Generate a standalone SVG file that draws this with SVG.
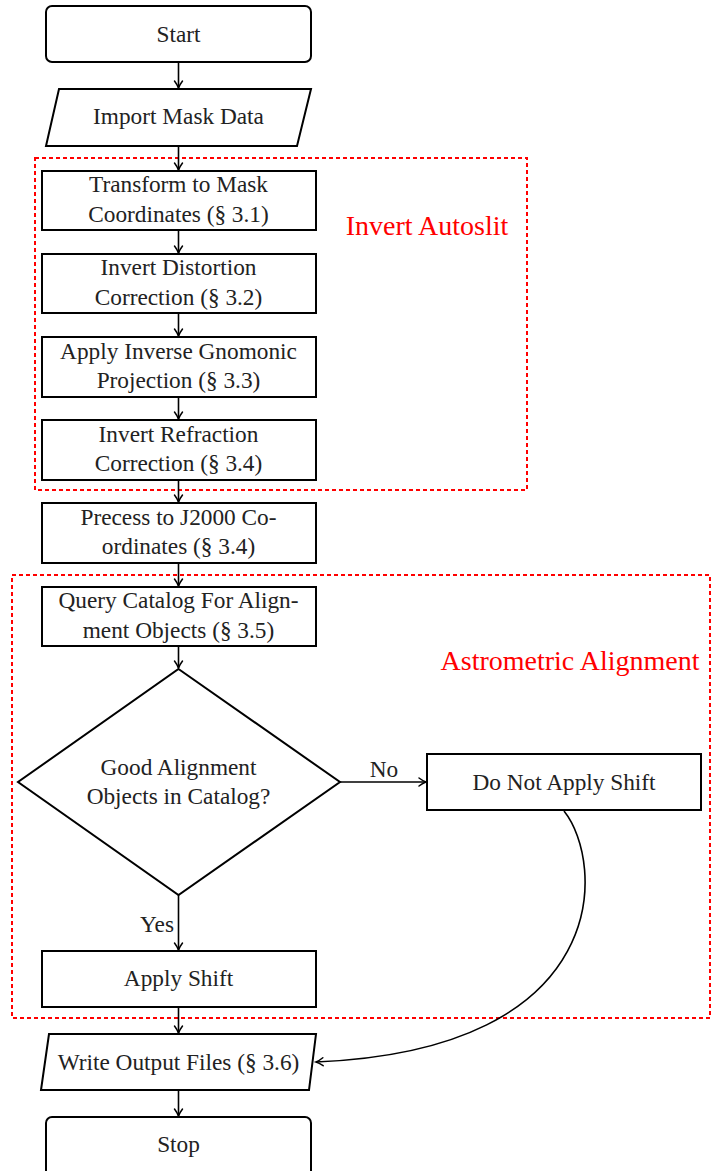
<svg xmlns="http://www.w3.org/2000/svg" width="716" height="1171" viewBox="0 0 716 1171">
<style>
.n{fill:#fff;stroke:#000;stroke-width:2}
.t{font-family:"Liberation Serif","DejaVu Serif",serif;font-size:23.3px;fill:#222;text-anchor:middle}
.c{fill:none;stroke:#000;stroke-width:1.6}
.g{fill:none;stroke:#f00;stroke-width:2;stroke-dasharray:4 3}
.r{font-family:"Liberation Serif","DejaVu Serif",serif;font-size:28px;fill:#f00;text-anchor:middle}
</style>
<defs>
<marker id="a" markerUnits="userSpaceOnUse" markerWidth="14" markerHeight="14" refX="0" refY="0" viewBox="-8 -7 10 14" orient="auto" overflow="visible">
<path d="M-7,-4 Q-3,-1 0,0 Q-3,1 -7,4" fill="none" stroke="#000" stroke-width="1.5" stroke-linecap="round"/>
</marker>
</defs>
<g id="groups">
<rect class="g" x="35" y="158" width="492" height="332"/>
<text class="r" x="427" y="235">Invert Autoslit</text>
<rect class="g" x="12" y="575" width="698" height="443"/>
<text class="r" x="570" y="670">Astrometric Alignment</text>
</g>
<g id="connectors">
<path class="c" d="M178.5,62 V88" marker-end="url(#a)"/>
<path class="c" d="M178.5,146 V170" marker-end="url(#a)"/>
<path class="c" d="M178.5,230 V253" marker-end="url(#a)"/>
<path class="c" d="M178.5,313 V336" marker-end="url(#a)"/>
<path class="c" d="M178.5,397 V419" marker-end="url(#a)"/>
<path class="c" d="M178.5,480 V502" marker-end="url(#a)"/>
<path class="c" d="M178.5,563 V586" marker-end="url(#a)"/>
<path class="c" d="M178.5,646 V668" marker-end="url(#a)"/>
<path class="c" d="M178.5,895 V950" marker-end="url(#a)"/>
<text class="t" x="157" y="932">Yes</text>
<path class="c" d="M340,782 H426" marker-end="url(#a)"/>
<text class="t" x="384" y="777">No</text>
<path class="c" d="M178.5,1007 V1033" marker-end="url(#a)"/>
<path class="c" d="M178.5,1090 V1116" marker-end="url(#a)"/>
<path class="c" d="M564,811 C605,862 615,1050 316,1062" marker-end="url(#a)"/>
</g>
<g id="start">
<rect class="n" x="46" y="6" width="265" height="56" rx="6"/>
<text class="t" x="178.5" y="42">Start</text>
</g>
<g id="import">
<polygon class="n" points="59,89 311,89 297,146 46,146"/>
<text class="t" x="178.5" y="124">Import Mask Data</text>
</g>
<g id="transform">
<rect class="n" x="42" y="171" width="274" height="59"/>
<text class="t" x="178.5" y="192">Transform to Mask</text>
<text class="t" x="178.5" y="222">Coordinates (§ 3.1)</text>
</g>
<g id="distortion">
<rect class="n" x="42" y="254" width="274" height="59"/>
<text class="t" x="178.5" y="275">Invert Distortion</text>
<text class="t" x="178.5" y="305">Correction (§ 3.2)</text>
</g>
<g id="gnomonic">
<rect class="n" x="42" y="337" width="274" height="60"/>
<text class="t" x="178.5" y="359">Apply Inverse Gnomonic</text>
<text class="t" x="178.5" y="388">Projection (§ 3.3)</text>
</g>
<g id="refraction">
<rect class="n" x="42" y="420" width="274" height="60"/>
<text class="t" x="178.5" y="442">Invert Refraction</text>
<text class="t" x="178.5" y="471">Correction (§ 3.4)</text>
</g>
<g id="precess">
<rect class="n" x="42" y="503" width="274" height="60"/>
<text class="t" x="178.5" y="525">Precess to J2000 Co-</text>
<text class="t" x="178.5" y="554">ordinates (§ 3.4)</text>
</g>
<g id="query">
<rect class="n" x="42" y="587" width="274" height="59"/>
<text class="t" x="178.5" y="608">Query Catalog For Align-</text>
<text class="t" x="178.5" y="638">ment Objects (§ 3.5)</text>
</g>
<g id="decision">
<polygon class="n" points="178.5,669 340,782 178.5,895 18,782"/>
<text class="t" x="178.5" y="775">Good Alignment</text>
<text class="t" x="178.5" y="804">Objects in Catalog?</text>
</g>
<g id="noshift">
<rect class="n" x="427" y="754" width="274" height="56"/>
<text class="t" x="564" y="790">Do Not Apply Shift</text>
</g>
<g id="shift">
<rect class="n" x="42" y="951" width="274" height="56"/>
<text class="t" x="178.5" y="986">Apply Shift</text>
</g>
<g id="write">
<polygon class="n" points="49,1034 316,1034 309,1090 41,1090"/>
<text class="t" x="178.5" y="1070">Write Output Files (§ 3.6)</text>
</g>
<g id="stop">
<rect class="n" x="46" y="1117" width="265" height="60" rx="6"/>
<text class="t" x="178.5" y="1152">Stop</text>
</g>
</svg>
